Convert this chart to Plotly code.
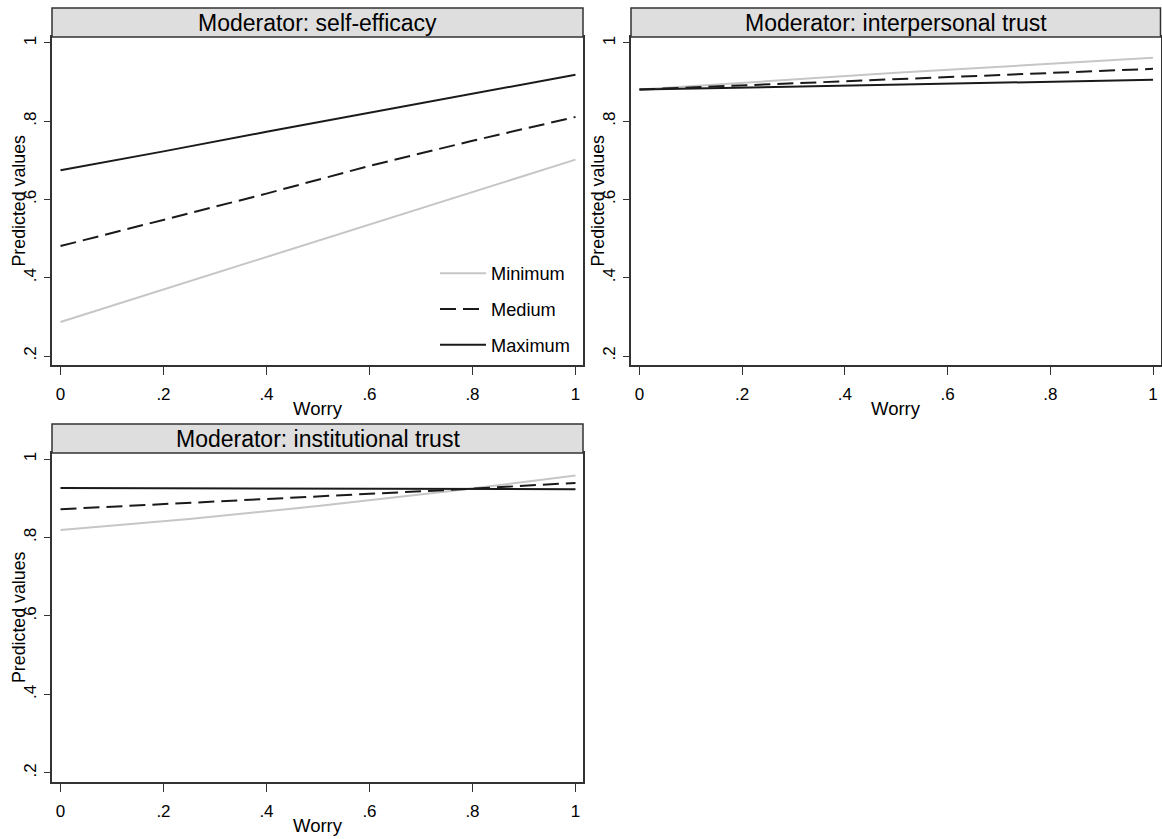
import plotly.graph_objects as go

# Canvas size in pixels
W, H = 1162, 839

# ---- data: predicted values by worry, at three moderator levels ----
level_names = ["Minimum", "Medium", "Maximum"]

worry_se = [0.0, 0.2, 0.4, 0.6, 0.8, 1.0]
se_min = [0.287, 0.370, 0.453, 0.535, 0.619, 0.702]
se_med = [0.481, 0.548, 0.615, 0.686, 0.750, 0.811]
se_max = [0.675, 0.723, 0.773, 0.822, 0.870, 0.919]

worry_it = [0.0, 0.5, 1.0]
it_min = [0.881, 0.924, 0.962]
it_med = [0.881, 0.907, 0.934]
it_max = [0.881, 0.894, 0.906]

worry_inst = [0.0, 0.25, 0.5, 0.75, 1.0]
inst_min = [0.819, 0.847, 0.880, 0.917, 0.958]
inst_med = [0.872, 0.888, 0.904, 0.921, 0.939]
inst_max = [0.926, 0.925, 0.924, 0.924, 0.923]

panel_titles = [
    "Moderator: self-efficacy",
    "Moderator: interpersonal trust",
    "Moderator: institutional trust",
]
x_title = "Worry"
y_title = "Predicted values"

x_tickvals = [0, 0.2, 0.4, 0.6, 0.8, 1.0]
x_ticktext = ["0", ".2", ".4", ".6", ".8", "1"]
y_tickvals = [0.2, 0.4, 0.6, 0.8, 1.0]
y_ticktext = [".2", ".4", ".6", ".8", "1"]

# ---- styling ----
FONT = "Liberation Sans, Arial, sans-serif"
FRAME = "#333333"
BAR_FILL = "#dedede"
styles = [
    dict(color="#c6c6c6", width=2, dash="solid"),
    dict(color="#1a1a1a", width=2, dash="16px,7px"),
    dict(color="#1a1a1a", width=2, dash="solid"),
]

# pixel boxes: (left, right, top, bottom) of each plot region, plus title-bar top
panels = [
    dict(box=(52, 583, 37, 365), bar_top=8,
         x=worry_se, series=[se_min, se_med, se_max]),
    dict(box=(631, 1160.5, 37, 365), bar_top=8,
         x=worry_it, series=[it_min, it_med, it_max]),
    dict(box=(52, 583, 453, 782), bar_top=424,
         x=worry_inst, series=[inst_min, inst_med, inst_max]),
]


def px(v):
    return v / W


def py(v):
    return 1 - v / H


fig = go.Figure()
shapes, annotations = [], []

for i, p in enumerate(panels):
    n = "" if i == 0 else str(i + 1)
    left, right, top, bottom = p["box"]
    for k, (name, vals) in enumerate(zip(level_names, p["series"])):
        fig.add_trace(go.Scatter(
            x=p["x"], y=vals, mode="lines", name=name,
            line=styles[k], xaxis="x" + n, yaxis="y" + n,
            showlegend=(i == 0), legendgroup=name,
        ))

    axis_common = dict(
        showgrid=False, zeroline=False, showline=True, mirror=True,
        linecolor=FRAME, linewidth=1.5, ticks="outside", tickcolor=FRAME,
        tickwidth=1.2, tickfont=dict(family=FONT, size=17, color="#000"),
        tickmode="array",
    )
    fig.layout["xaxis" + n] = dict(
        axis_common, domain=[px(left), px(right)], range=[-0.0165, 1.0146],
        tickvals=x_tickvals, ticktext=x_ticktext, ticklen=8,
        anchor="y" + n, ticklabelstandoff=5,
    )
    fig.layout["yaxis" + n] = dict(
        axis_common, domain=[py(bottom), py(top)], range=[0.177, 1.0153],
        tickvals=y_tickvals, ticktext=y_ticktext, ticklen=6, tickangle=-90,
        anchor="x" + n, ticklabelstandoff=1,
    )

    # grey title strip above each panel
    shapes.append(dict(
        type="rect", xref="paper", yref="paper",
        x0=px(left), x1=px(right), y0=py(top), y1=py(p["bar_top"]),
        fillcolor=BAR_FILL, line=dict(color=FRAME, width=1.5), layer="above",
    ))
    annotations.append(dict(
        text=panel_titles[i], xref="paper", yref="paper",
        x=px((left + right) / 2), y=py((top + p["bar_top"]) / 2),
        xanchor="center", yanchor="middle", showarrow=False,
        font=dict(family=FONT, size=23, color="#000"),
    ))
    # axis titles
    annotations.append(dict(
        text=x_title, xref="paper", yref="paper",
        x=px((left + right) / 2), y=py(bottom + 43),
        xanchor="center", yanchor="middle", showarrow=False,
        font=dict(family=FONT, size=18.5, color="#000"),
    ))
    annotations.append(dict(
        text=y_title, xref="paper", yref="paper",
        x=px(left - 33.5), y=py((top + bottom) / 2), textangle=-90,
        xanchor="center", yanchor="middle", showarrow=False,
        font=dict(family=FONT, size=17.8, color="#000"),
    ))

fig.update_layout(
    width=W, height=H,
    margin=dict(l=0, r=0, t=0, b=0),
    paper_bgcolor="white", plot_bgcolor="white",
    font=dict(family=FONT, color="#000"),
    shapes=shapes, annotations=annotations,
    showlegend=True,
    legend=dict(
        x=px(435), y=py(255), xanchor="left", yanchor="top",
        bgcolor="rgba(0,0,0,0)", borderwidth=0,
        font=dict(family=FONT, size=18.2, color="#000"),
        traceorder="grouped", tracegroupgap=9, itemwidth=46,
    ),
)

fig.write_html("out.html")
